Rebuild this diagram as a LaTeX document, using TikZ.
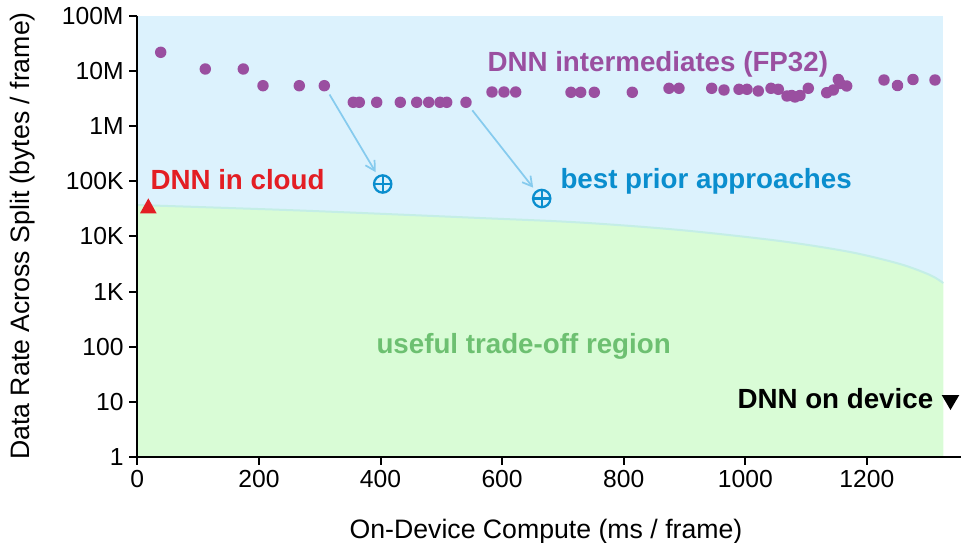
\documentclass[tikz,border=0pt]{standalone}
\usepackage{fontspec}
\setmainfont{Liberation Sans}
\usetikzlibrary{arrows.meta}

\definecolor{skyfill}{RGB}{220,242,253}
\definecolor{leaffill}{RGB}{217,252,214}
\definecolor{edgeline}{RGB}{196,238,230}
\definecolor{dnnpurple}{RGB}{154,79,160}
\definecolor{priorblue}{RGB}{10,142,206}
\definecolor{arrowblue}{RGB}{134,203,238}
\definecolor{cloudred}{RGB}{227,30,36}
\definecolor{regiongreen}{RGB}{109,192,113}

\tikzset{every picture/.style={line width=0.75pt}}
\tikzset{
  dot/.style={circle,fill=dnnpurple,inner sep=0pt,minimum size=8.6pt},
  priormark/.style={circle,draw=priorblue,line width=1.7pt,inner sep=0pt,minimum size=13pt,
    path picture={\draw[priorblue,line width=1.7pt]
      (path picture bounding box.north) -- (path picture bounding box.south)
      (path picture bounding box.west) -- (path picture bounding box.east);}},
  priorarrow/.style={arrowblue,line width=1.3pt,shorten <=3pt,shorten >=3pt,
    -{Straight Barb[length=7pt,width=8pt]}},
  ticklabel/.style={font=\fontsize{18.5}{22}\selectfont},
  axistitle/.style={font=\fontsize{20}{24}\selectfont,inner sep=0pt},
  callout/.style={font=\bfseries\fontsize{20.8}{25}\selectfont,inner sep=0pt,anchor=base west}
}

\begin{document}
\begin{tikzpicture}[x=0.75pt,y=0.75pt,yscale=-1,xscale=1]
\useasboundingbox (0,0) rectangle (961,543);

%Shape: Rectangle [background of the plot]
\fill[skyfill] (137,15.7) rectangle (943.3,457);
%Shape: Curve [trade-off region]
\fill[leaffill] plot[smooth] coordinates {(137,205) (300,210.5) (480,218) (580,222.5) (680,230) (780,241) (850,252) (900,264) (930,275) (943.3,283)} -- (943.3,457) -- (137,457) -- cycle;
\draw[edgeline,line width=1.5pt] plot[smooth] coordinates {(137,205) (300,210.5) (480,218) (580,222.5) (680,230) (780,241) (850,252) (900,264) (930,275) (943.3,283)};

%Shape: Axes
\draw[line width=1.5pt] (137,15.7) -- (137,457) -- (961,457);
\foreach \lab [count=\k from 0] in {1,10,100,1K,10K,100K,1M,10M,100M}
  \draw[line width=1.5pt] (137,{457-55.16*\k}) -- ++(-8,0) node[left,ticklabel] (ytick\k) {\lab};
\foreach \lab [count=\k from 0] in {0,200,400,600,800,1000,1200}
  \draw[line width=1.5pt] ({137.3+121.6*\k},457) -- ++(0,8) node[below,ticklabel] (xtick\k) {\lab};

% Text Node
\node[axistitle,anchor=base] (xtitle) at (546,538) {On-Device Compute (ms / frame)};
% Text Node
\node[axistitle,anchor=base,rotate=90] (ytitle) at (29,236) {Data Rate Across Split (bytes / frame)};

%Shape: Circles [DNN intermediates]
\foreach \px/\py [count=\i] in {160.7/52.3,205.3/69,243.3/69,263/85.7,299.3/85.7,324.3/85.7,
    353.3/102.3,359.3/102.3,376.7/102.3,400.3/102.3,416.7/102.3,428.7/102.3,440/102.3,446.7/102.3,466/102.3,
    492/92,504/92,515.7/92,571/92.3,580.7/92.3,594.3/92.3,632.3/92.3,669/88.3,679/88.3,711.7/88.3,
    724/90,739/89.3,747/89.3,758.3/91,771/88.3,778.3/89.3,787/96,791.7/95.5,795/97,800/95.5,808.3/88.3,
    826.7/92.7,833.3/90,838.3/79.5,840/83.5,846.7/86,884/80,897.5/85.5,913/79.5,935/80}
  \node[dot] (d\i) at (\px,\py) {};

%Shape: Circle with plus [best prior approaches]
\node[priormark] (bp1) at (382.7,184) {};
\node[priormark] (bp2) at (541.7,198.5) {};
\draw[priorarrow] (d6) -- (bp1);
\draw[priorarrow] (d15) -- (bp2);

%Shape: Triangles [end points]
\fill[cloudred] (140,213.3) -- (148.3,198.3) -- (156.6,213.3) -- cycle;
\fill[black] (941.7,395) -- (959.3,395) -- (950.5,410) -- cycle;

% Text Node
\node[callout,text=dnnpurple] (interlab) at (487,71) {DNN intermediates (FP32)};
% Text Node
\node[callout,text=priorblue] (priorlab) at (560,188.3) {best prior approaches};
% Text Node
\node[callout,text=cloudred] (cloudlab) at (150,189.5) {DNN in cloud};
% Text Node
\node[callout,text=regiongreen] (regionlab) at (376,353.3) {useful trade-off region};
% Text Node
\node[callout,text=black] (devicelab) at (737,408.3) {DNN on device};

\end{tikzpicture}
\end{document}
